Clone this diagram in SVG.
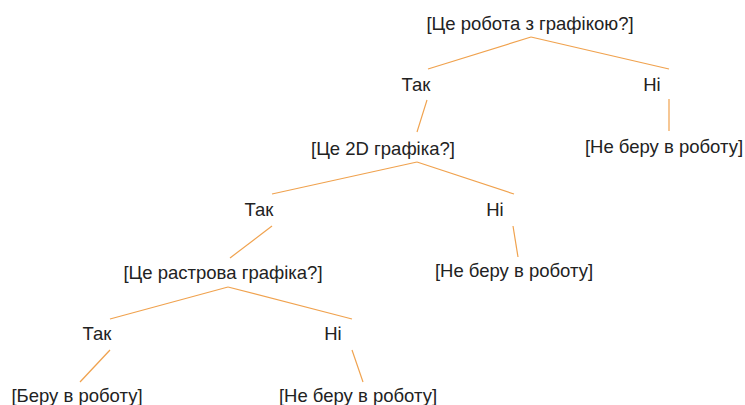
<svg xmlns="http://www.w3.org/2000/svg" width="745" height="405" viewBox="0 0 745 405">
<style>
text{font-family:"Liberation Sans",Arial,sans-serif;font-size:18.5px;fill:#222;text-anchor:middle}
.c line{stroke:#f0a24e;stroke-width:1.2}
</style>
<rect width="745" height="405" fill="#fff"/>
<g class="c" id="connectors">
<line x1="531" y1="37" x2="428" y2="69"/>
<line x1="531" y1="37" x2="669" y2="69"/>
<line x1="427" y1="100" x2="417" y2="132"/>
<line x1="669" y1="99" x2="669" y2="131"/>
<line x1="417" y1="162" x2="272" y2="194"/>
<line x1="417" y1="162" x2="514" y2="194"/>
<line x1="272" y1="226" x2="230" y2="258"/>
<line x1="513" y1="226" x2="518" y2="257"/>
<line x1="228" y1="287" x2="110" y2="319"/>
<line x1="228" y1="287" x2="352" y2="319"/>
<line x1="110" y1="350" x2="80" y2="382"/>
<line x1="352" y1="350" x2="363" y2="382"/>
</g>
<g id="q1"><text x="530" y="30">[Це робота з графікою?]</text></g>
<g id="yes1"><text x="416" y="91">Так</text></g>
<g id="no1"><text x="652" y="91">Ні</text></g>
<g id="r1"><text x="664" y="153">[Не беру в роботу]</text></g>
<g id="q2"><text x="383" y="155">[Це 2D графіка?]</text></g>
<g id="yes2"><text x="259" y="216">Так</text></g>
<g id="no2"><text x="495" y="216">Ні</text></g>
<g id="r2"><text x="514" y="277">[Не беру в роботу]</text></g>
<g id="q3"><text x="223" y="279">[Це растрова графіка?]</text></g>
<g id="yes3"><text x="97" y="340">Так</text></g>
<g id="no3"><text x="333" y="340">Ні</text></g>
<g id="r3"><text x="77" y="402">[Беру в роботу]</text></g>
<g id="r4"><text x="358" y="402">[Не беру в роботу]</text></g>
</svg>
